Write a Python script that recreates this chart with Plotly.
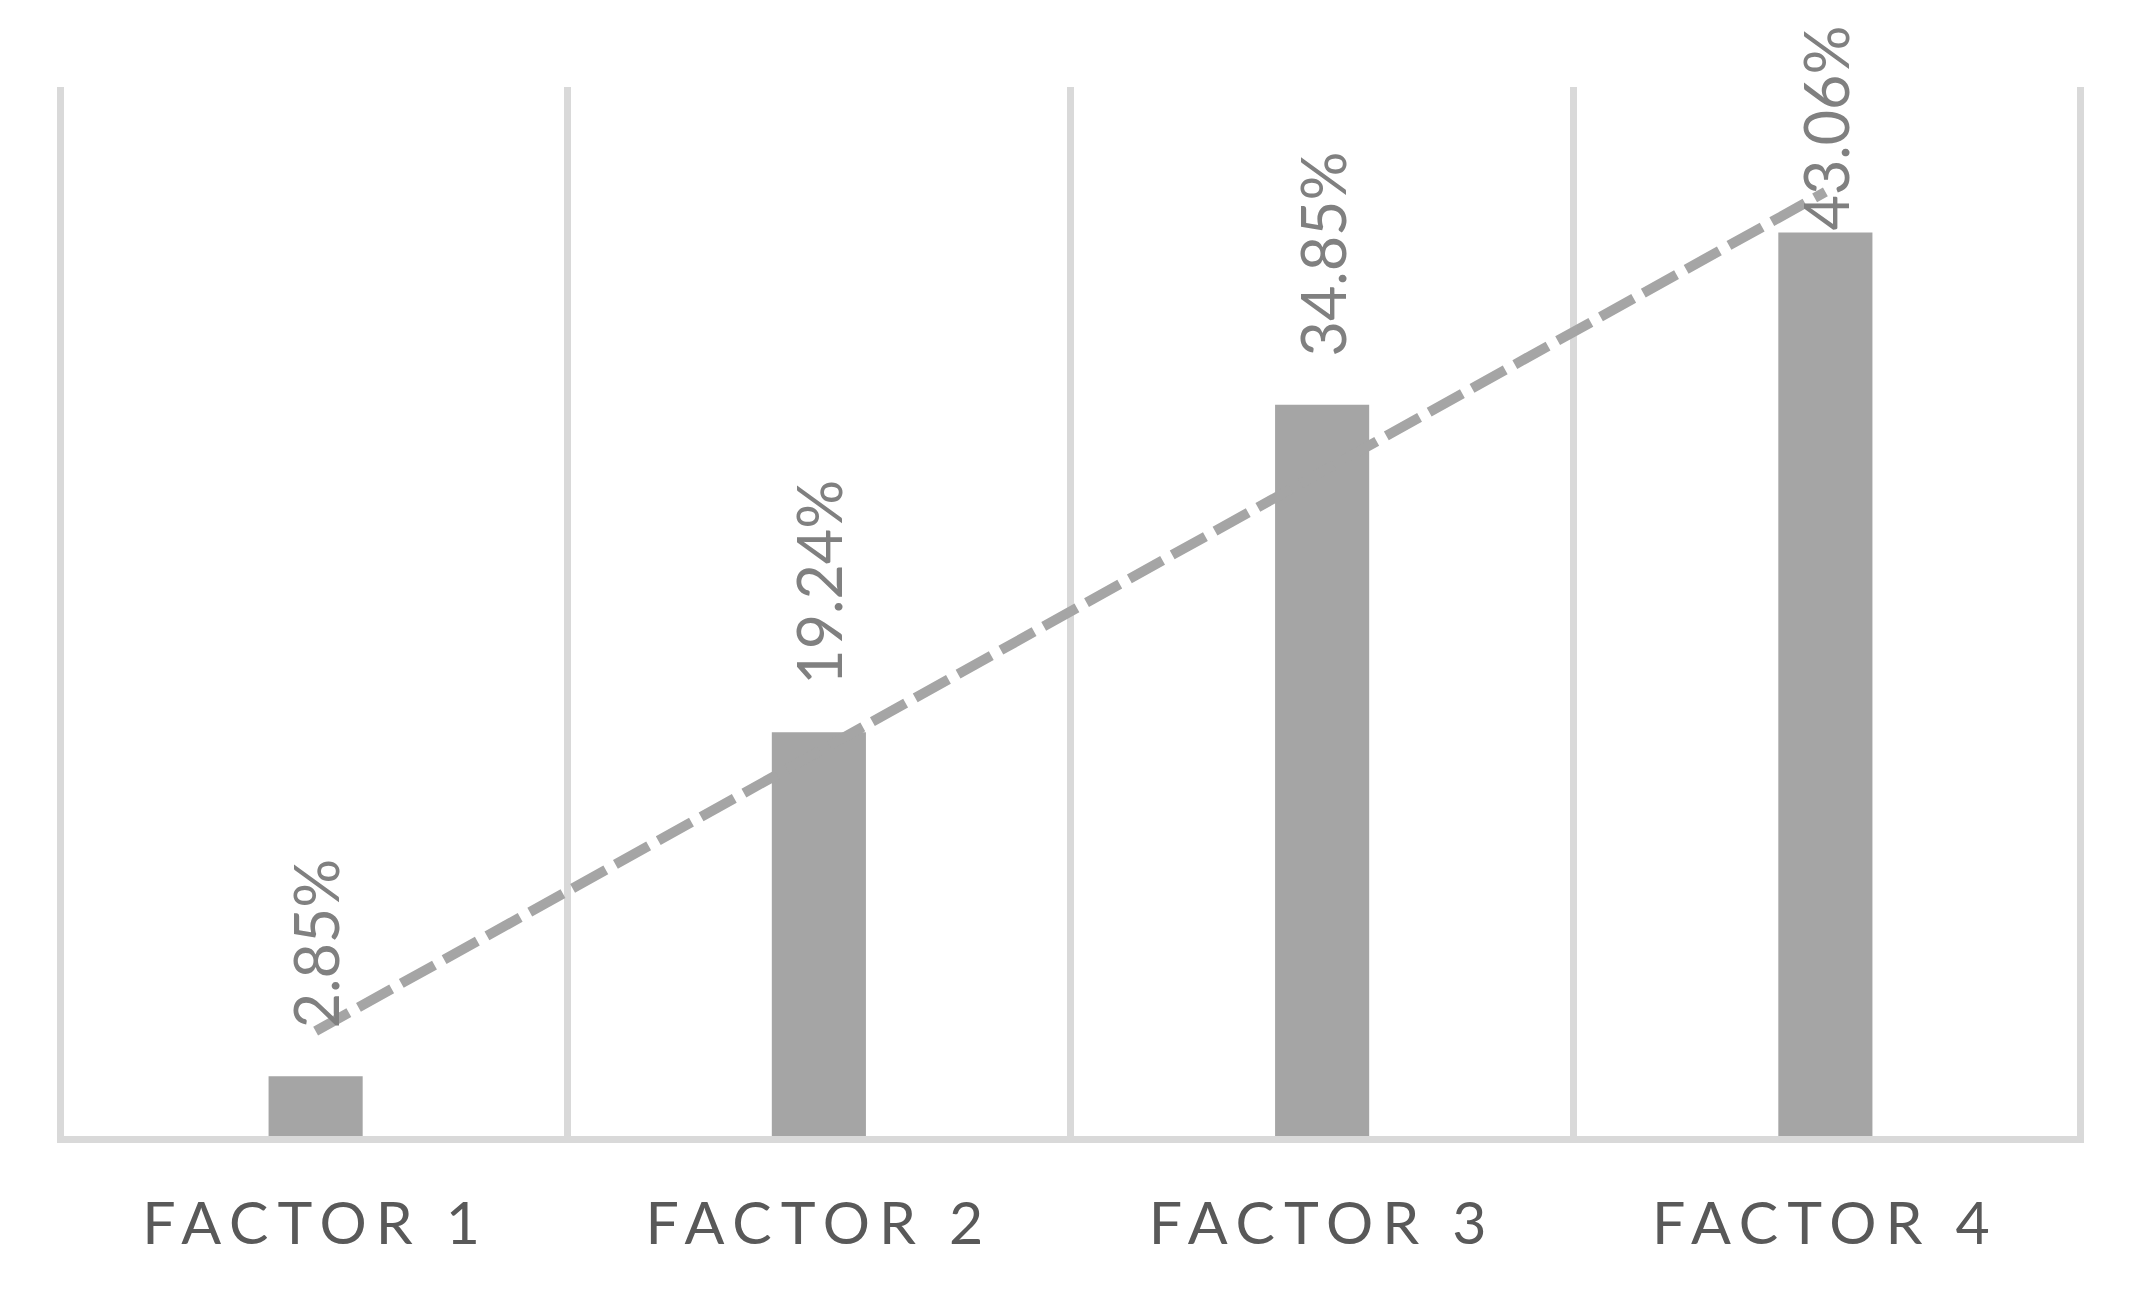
import plotly.graph_objects as go

categories = ["FACTOR 1", "FACTOR 2", "FACTOR 3", "FACTOR 4"]
values = [2.85, 19.24, 34.85, 43.06]
# dashed trend line at first and last category
trend_x = ["FACTOR 1", "FACTOR 4"]
trend_y = [5.0, 45.0]

BAR_COLOR = "#A5A5A5"
GRID_COLOR = "#D9D9D9"
FONT = "Lato"

fig = go.Figure()

fig.add_trace(go.Bar(
    x=categories, y=values,
    marker_color=BAR_COLOR, marker_line_width=0,
    hoverinfo="skip",
))

fig.add_trace(go.Scatter(
    x=trend_x, y=trend_y, mode="lines",
    line=dict(color=BAR_COLOR, width=10, dash="38px,11px"),
    hoverinfo="skip",
))

# rotated data labels above each bar; the tallest one is squeezed toward the top edge
for cat, v in zip(categories, values):
    fig.add_annotation(
        x=cat, y=v, text=f"{v:.2f}%",
        textangle=-90, showarrow=False,
        xanchor="center", yanchor="bottom",
        yshift=46 if v < 40 else 0,
        font=dict(family=FONT, size=61, color="#808080"),
    )

fig.update_layout(
    width=2139, height=1293,
    margin=dict(l=56, r=70, t=79, b=165),
    paper_bgcolor="white", plot_bgcolor="white",
    showlegend=False,
    bargap=0.813,
)

fig.update_xaxes(
    type="category",
    tickson="boundaries",
    tickvals=categories,
    ticktext=[f'<span style="letter-spacing:9px">{c}</span>' for c in categories],
    ticks="",
    showgrid=True, gridcolor=GRID_COLOR, gridwidth=7,
    showline=True, linecolor=GRID_COLOR, linewidth=7,
    tickfont=dict(family=FONT, size=59, color="#595959"),
    ticklabelstandoff=30,
)

# left/right edge lines stand in for the outer category boundaries
fig.update_yaxes(
    range=[0, 50],
    showgrid=False, zeroline=False,
    showticklabels=False, ticks="",
    showline=True, mirror=True, linecolor=GRID_COLOR, linewidth=7,
)

fig.write_html("out.html")
